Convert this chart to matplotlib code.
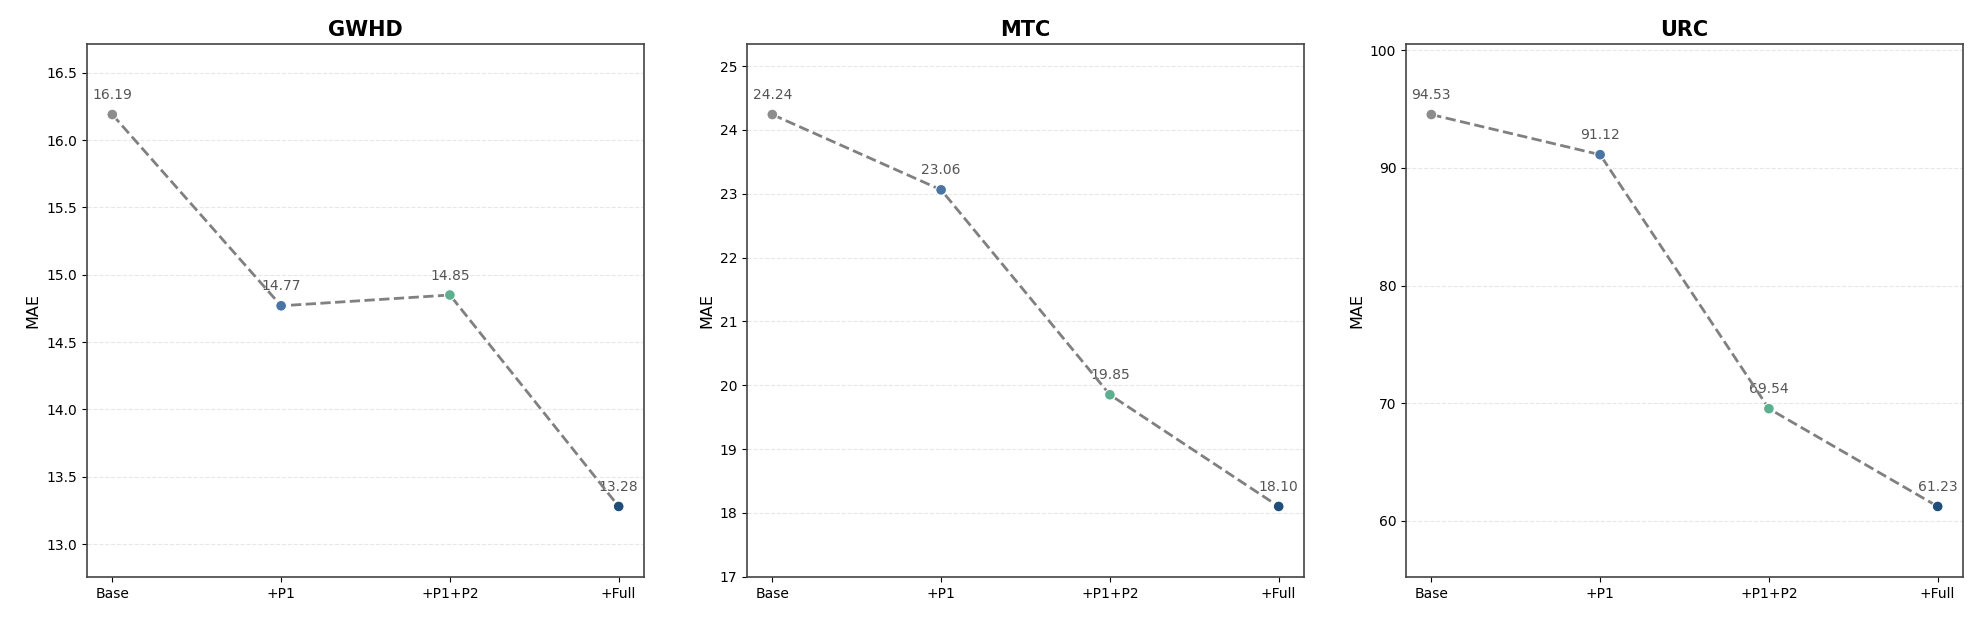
import matplotlib
matplotlib.use("Agg")
import matplotlib.pyplot as plt

# ablation steps and MAE per dataset
steps = ["Base", "+P1", "+P1+P2", "+Full"]
datasets = ["GWHD", "MTC", "URC"]
gwhd_mae = [16.19, 14.77, 14.85, 13.28]
mtc_mae = [24.24, 23.06, 19.85, 18.10]
urc_mae = [94.53, 91.12, 69.54, 61.23]
mae_values = [gwhd_mae, mtc_mae, urc_mae]

step_colors = ["#8c8c8c", "#4a74a3", "#5cb08f", "#1f4e7a"]

W, H = 1985, 619
fig = plt.figure(figsize=(W / 100, H / 100), dpi=100)
lefts = [87, 747, 1406]
width = 557
bottom, top = 577, 44

for k, (name, vals) in enumerate(zip(datasets, mae_values)):
    ax = fig.add_axes([lefts[k] / W, 1 - bottom / H, width / W, (bottom - top) / H])
    x = list(range(len(steps)))
    ax.plot(x, vals, linestyle="--", color="gray", linewidth=2, zorder=3)
    ax.scatter(x, vals, c=step_colors, s=60, edgecolors="white", linewidths=0.8, zorder=4)
    for xi, v in zip(x, vals):
        ax.annotate(f"{v:.2f}", (xi, v), xytext=(0, 9), textcoords="offset points",
                    ha="center", va="bottom", fontsize=10, color="#555555", zorder=2)
    rng = max(vals) - min(vals)
    ax.set_ylim(min(vals) - 0.18 * rng, max(vals) + 0.18 * rng)
    ax.set_xlim(-0.15, 3.15)
    ax.set_xticks(x)
    ax.set_xticklabels(steps, fontsize=10)
    ax.tick_params(axis="y", labelsize=10)
    ax.set_ylabel("MAE", fontsize=11.5)
    ax.set_title(name, fontsize=15, fontweight="bold")
    ax.grid(axis="y", linestyle="--", alpha=0.3)
    ax.set_axisbelow(True)
    for sp in ax.spines.values():
        sp.set_color("#444444")
        sp.set_linewidth(1.2)

fig.savefig("out.png", dpi=100)
